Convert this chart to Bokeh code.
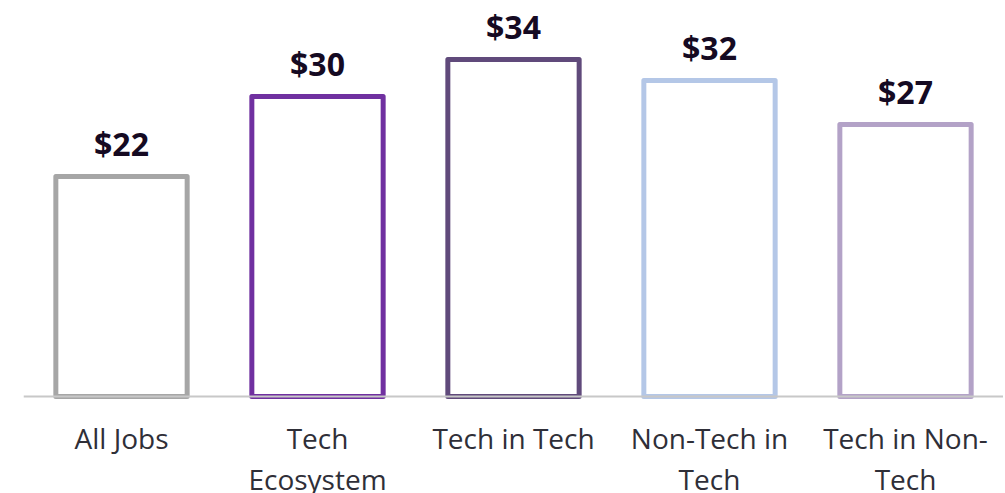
from bokeh.plotting import figure
from bokeh.models import ColumnDataSource, FactorRange, Range1d, Span
from bokeh.embed import file_html
from bokeh.resources import INLINE
from bokeh.core.properties import value

categories = ["All Jobs", "Tech Ecosystem", "Tech in Tech", "Non-Tech in Tech", "Tech in Non-Tech"]
tick_labels = ["All Jobs", "Tech\nEcosystem", "Tech in Tech", "Non-Tech in\nTech", "Tech in Non-\nTech"]
wages = [22, 30, 33.7, 31.6, 27.2]
wage_labels = ["$22", "$30", "$34", "$32", "$27"]
colors = ["#A6A6A6", "#7030A0", "#604A7B", "#B4C7E7", "#B3A2C7"]

src = ColumnDataSource(dict(cat=categories, val=wages, lab=wage_labels, col=colors,
                            tick=tick_labels, zero=[0] * len(categories)))

p = figure(width=1003, height=493, x_range=FactorRange(*categories, range_padding=0),
           y_range=Range1d(-9.7, 39.6), output_backend="svg", toolbar_location=None,
           min_border_left=23, min_border_right=0, min_border_top=0, min_border_bottom=0)
p.outline_line_color = None
p.background_fill_color = "white"
p.border_fill_color = "white"
p.grid.grid_line_color = None
p.xaxis.visible = False
p.yaxis.visible = False

p.add_layout(Span(location=0, dimension="width", line_color="#C8C8C8", line_width=2))

p.vbar(x="cat", top="val", bottom=0, width=0.67, source=src, fill_color="white",
       line_color="col", line_width=5, line_join="round")

p.text(x="cat", y="val", text="lab", source=src, text_align="center",
       text_baseline="alphabetic", y_offset=-33, text_font=value("Open Sans"),
       text_font_style="bold", text_font_size="32px", text_color="#150A22")

p.text(x="cat", y="zero", text="tick", source=src, text_align="center",
       text_baseline="top", y_offset=22, text_font=value("Open Sans"),
       text_font_size="28px", text_color="#2F2F38", text_line_height=1.1)

open("out.html", "w").write(file_html(p, INLINE))
